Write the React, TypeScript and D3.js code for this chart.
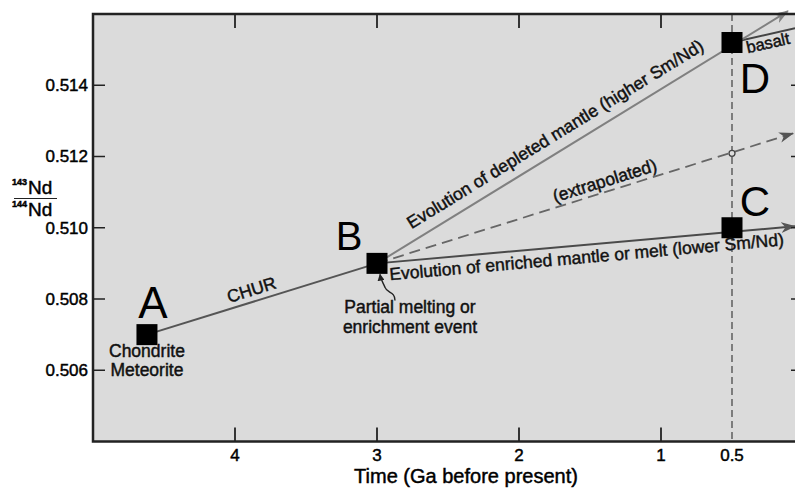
import React from 'react'
import * as d3 from 'd3'

// axis ticks
const xTicks = [4, 3, 2, 1, 0.5]
const xTickLines = [4, 3, 2, 1]
const yTicks = [0.506, 0.508, 0.510, 0.512, 0.514]

// labelled points: age (Ga) and 143Nd/144Nd
const pointNames = ['A', 'B', 'C', 'D']
const pointAge = [4.62, 3.0, 0.5, 0.5]
const pointRatio = [0.507, 0.509, 0.510, 0.5152]

// evolution lines [age, ratio]
const churLine: [number, number][] = [[4.62, 0.507], [3.0, 0.509]]
const depletedLine: [number, number][] = [[3.0, 0.509], [0.106, 0.51608]]
const extrapLine: [number, number][] = [[3.0, 0.509], [0.07, 0.51265]]
const enrichedLine: [number, number][] = [[3.0, 0.509], [0.056, 0.51004]]
const basaltLine: [number, number][] = [[0.5, 0.5152], [0.056, 0.5156]]
const extrapPoint: [number, number] = [0.5, 0.51209]

const font = '"Liberation Sans", Arial, Helvetica, sans-serif'

const App = () => {
  const svgWidth = 795
  const svgHeight = 490
  const margin = { left: 93, top: 14, right: -8, bottom: 48.5 }

  const x = d3.scaleLinear().domain([5, 0]).range([margin.left, svgWidth - margin.right])
  const y = d3.scaleLinear().domain([0.504, 0.516]).range([svgHeight - margin.bottom, margin.top])

  const x0 = x(5), x1 = x(0), y0 = y(0.504), y1 = y(0.516)
  const line = d3.line<[number, number]>().x(d => x(d[0])).y(d => y(d[1]))

  // label placed along a line: t = fraction along, d = offset perpendicular (+ above)
  const along = (pts: [number, number][], t: number, d: number) => {
    const ax = x(pts[0][0]), ay = y(pts[0][1])
    const bx = x(pts[pts.length - 1][0]), by = y(pts[pts.length - 1][1])
    const ang = Math.atan2(by - ay, bx - ax) * 180 / Math.PI
    const px = ax + (bx - ax) * t
    const py = ay + (by - ay) * t
    return { transform: `translate(${px},${py}) rotate(${ang})`, y: -d }
  }

  const bx = x(pointAge[1]), by = y(pointRatio[1])
  const letterOffset = [[6, -17, 44], [-28, -13, 40], [23, -12, 42], [23, 50, 42]]

  const chur = along(churLine, 0.47, 6)
  const depl = along(depletedLine, 0.455, 11)
  const extr = along(extrapLine, 0.555, 5)
  const enr = along(enrichedLine, 0.027, -18)
  const bas = along(basaltLine, 0.2, -14)

  // a thin outline gives the printed Helvetica its heavier look
  const heavy = { stroke: '#111', strokeWidth: 0.45, paintOrder: 'stroke' as const }

  return (
    <div>
      <svg width={svgWidth} height={svgHeight} style={{ position: 'absolute', left: 0, top: 0, background: '#fff' }}>
        <defs>
          <clipPath id="plot">
            <rect x={x0} y={y1} width={x1 - x0} height={y0 - y1} />
          </clipPath>
          <marker id="arrLight" viewBox="0 0 14 10" refX="13" refY="5" markerWidth="15" markerHeight="11" markerUnits="userSpaceOnUse" orient="auto">
            <path d="M0,0 L14,5 L0,10 L4,5 Z" fill="#808080" />
          </marker>
          <marker id="arrDark" viewBox="0 0 14 10" refX="13" refY="5" markerWidth="15" markerHeight="11" markerUnits="userSpaceOnUse" orient="auto">
            <path d="M0,0 L14,5 L0,10 L4,5 Z" fill="#555" />
          </marker>
          <marker id="arrSmall" viewBox="0 0 10 10" refX="9" refY="5" markerWidth="7" markerHeight="7" markerUnits="userSpaceOnUse" orient="auto">
            <path d="M0,0 L10,5 L0,10 Z" fill="#222" />
          </marker>
        </defs>

        <rect x={x0} y={y1} width={x1 - x0} height={y0 - y1} fill="#dbdbdb" />

        <g clipPath="url(#plot)">
          {/* present-day reference */}
          <line x1={x(0.5)} x2={x(0.5)} y1={y1} y2={y0} stroke="#555" strokeWidth={1.4} strokeDasharray="7,4" />

          <path d={line(churLine) || ''} fill="none" stroke="#555" strokeWidth={2} />
          <path d={line(extrapLine) || ''} fill="none" stroke="#666" strokeWidth={1.8} strokeDasharray="11,6" markerEnd="url(#arrDark)" />
          <path d={line(enrichedLine) || ''} fill="none" stroke="#4a4a4a" strokeWidth={2} markerEnd="url(#arrDark)" />
          <path d={line(basaltLine) || ''} fill="none" stroke="#444" strokeWidth={2} />

          <circle cx={x(extrapPoint[0])} cy={y(extrapPoint[1])} r={3} fill="#ddd" stroke="#444" strokeWidth={1.3} />
        </g>
        <path d={line(depletedLine) || ''} fill="none" stroke="#808080" strokeWidth={2} markerEnd="url(#arrLight)" />

        {pointNames.map((n, i) => (
          <rect key={n} x={x(pointAge[i]) - 10.5} y={y(pointRatio[i]) - 10.5} width={21} height={21} fill="#000" />
        ))}

        <g fontFamily={font} fill="#111">
          {pointNames.map((n, i) => (
            <text key={n} x={x(pointAge[i]) + letterOffset[i][0]} y={y(pointRatio[i]) + letterOffset[i][1]}
              fontSize={letterOffset[i][2]} textAnchor="middle" fill="#000">{n}</text>
          ))}

          <g fontSize={17.5} {...heavy}>
            <text x={x(pointAge[0])} y={y(pointRatio[0]) + 22} textAnchor="middle">Chondrite</text>
            <text x={x(pointAge[0])} y={y(pointRatio[0]) + 41} textAnchor="middle">Meteorite</text>

            <text transform={chur.transform} y={chur.y} textAnchor="middle">CHUR</text>
            <text transform={depl.transform} y={depl.y} textAnchor="middle">Evolution of depleted mantle (higher Sm/Nd)</text>
            <text transform={extr.transform} y={extr.y} textAnchor="middle">(extrapolated)</text>
            <text transform={enr.transform} y={enr.y} textAnchor="start">Evolution of enriched mantle or melt (lower Sm/Nd)</text>
            <text transform={bas.transform} y={bas.y} textAnchor="start" fontSize={16.5}>basalt</text>

            <text x={bx + 33} y={by + 50} textAnchor="middle">Partial melting or</text>
            <text x={bx + 33} y={by + 70} textAnchor="middle">enrichment event</text>
          </g>

          {/* squiggle from the note up to B */}
          <path d={`M${bx + 18},${by + 37} C${bx + 18},${by + 28} ${bx + 10},${by + 30} ${bx + 8},${by + 24} C${bx + 6},${by + 19} ${bx + 4},${by + 17} ${bx + 3},${by + 11}`}
            fill="none" stroke="#222" strokeWidth={1.4} markerEnd="url(#arrSmall)" />
        </g>

        {/* frame and ticks */}
        <g stroke="#222" fill="none">
          <rect x={x0} y={y1} width={x1 - x0} height={y0 - y1} strokeWidth={2.5} />
          {xTickLines.map(t => (
            <g key={'x' + t} strokeWidth={1.8}>
              <line x1={x(t)} x2={x(t)} y1={y0} y2={y0 - 14} />
              <line x1={x(t)} x2={x(t)} y1={y1} y2={y1 + 14} />
            </g>
          ))}
          {yTicks.map(t => (
            <g key={'y' + t} strokeWidth={1.5}>
              <line x1={x0} x2={x0 + 12} y1={y(t)} y2={y(t)} />
              <line x1={x1} x2={x1 - 12} y1={y(t)} y2={y(t)} />
            </g>
          ))}
        </g>

        <g fontFamily={font} fontSize={17} fill="#000" {...heavy} stroke="#000">
          {yTicks.map(t => (
            <text key={'yl' + t} x={x0 - 5} y={y(t)} dy="0.35em" textAnchor="end">{d3.format('.3f')(t)}</text>
          ))}
          {xTicks.map(t => (
            <text key={'xl' + t} x={x(t)} y={y0 + 19} textAnchor="middle">{t}</text>
          ))}
          <text x={466} y={483} fontSize={20} textAnchor="middle">Time (Ga before present)</text>

          {/* y axis title as a ratio */}
          <text fontSize={19}>
            <tspan x={12} y={185} fontSize={9} fontWeight="bold">143</tspan>
            <tspan x={28} y={194}>Nd</tspan>
            <tspan x={12} y={207} fontSize={9} fontWeight="bold">144</tspan>
            <tspan x={28} y={216}>Nd</tspan>
          </text>
          <line x1={14} x2={57} y1={198.5} y2={198.5} stroke="#222" strokeWidth={1.2} />
        </g>
      </svg>
    </div>
  )
}

export default App
